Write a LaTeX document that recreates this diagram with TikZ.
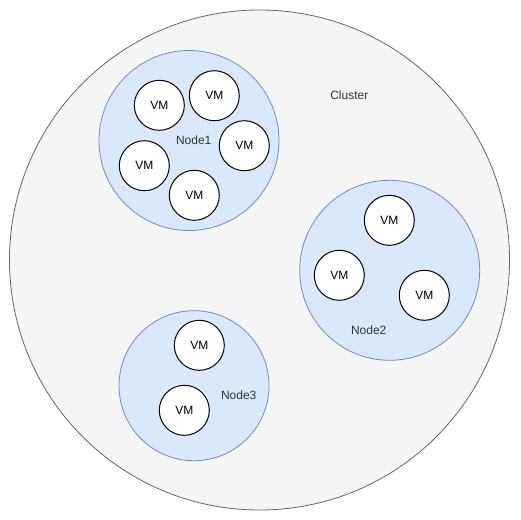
\documentclass[tikz,border=0pt]{standalone}
\usepackage{fontspec}
\setmainfont{Liberation Sans}
\usepackage{xcolor}
\usepackage{tikz}
\usetikzlibrary{positioning}

\definecolor{clusterfill}{HTML}{F5F5F5}
\definecolor{clusterline}{HTML}{666666}
\definecolor{hostfill}{HTML}{DAE8FC}
\definecolor{hostline}{HTML}{6C8EBF}
\definecolor{labeltext}{HTML}{333333}

\begin{document}
\begin{tikzpicture}[
    x=1pt, y=-1pt,
    cluster/.style={
        circle,
        draw=clusterline,
        fill=clusterfill,
        line width=0.8pt,
        inner sep=0pt,
        minimum size=500pt
        },
    host/.style={
        circle,
        draw=hostline,
        fill=hostfill,
        line width=0.8pt,
        inner sep=0pt
        },
    vm/.style={
        circle,
        draw=black,
        fill=white,
        line width=1pt,
        inner sep=0pt,
        minimum size=50pt,
        font=\fontsize{12}{14}\selectfont
        },
    lbl/.style={
        text=labeltext,
        inner sep=0pt,
        font=\fontsize{12}{14}\selectfont
        }
    ]

    \useasboundingbox (0,0) rectangle (521,519);

    % cluster
    \node[cluster] (cluster) at (259.5,260) {};
    \node[lbl] (clusterlbl) at (349.3,95.7) {Cluster};

    % hosts
    \node[host, minimum size=180pt] (node1) at (189,140.5) {};
    \node[host, minimum size=180pt] (node2) at (389.7,270.3) {};
    \node[host, minimum size=150pt] (node3) at (194,385.7) {};

    \node[lbl] (node1lbl) at (193.7,140.7) {Node1};
    \node[lbl] (node2lbl) at (368.7,330.7) {Node2};
    \node[lbl] (node3lbl) at (238.7,395.7) {Node3};

    % virtual machines
    \foreach \px/\py/\name in {
        159.3/105.3/vma,
        214.3/95.7/vmb,
        244.3/145.7/vmc,
        144.3/165.7/vmd,
        194.3/195.3/vme,
        389.3/220.3/vmf,
        339.3/275.3/vmg,
        424.3/295.3/vmh,
        199.3/345.3/vmi,
        184.3/410.3/vmj}
        \node[vm] (\name) at (\px,\py) {VM};

\end{tikzpicture}
\end{document}
